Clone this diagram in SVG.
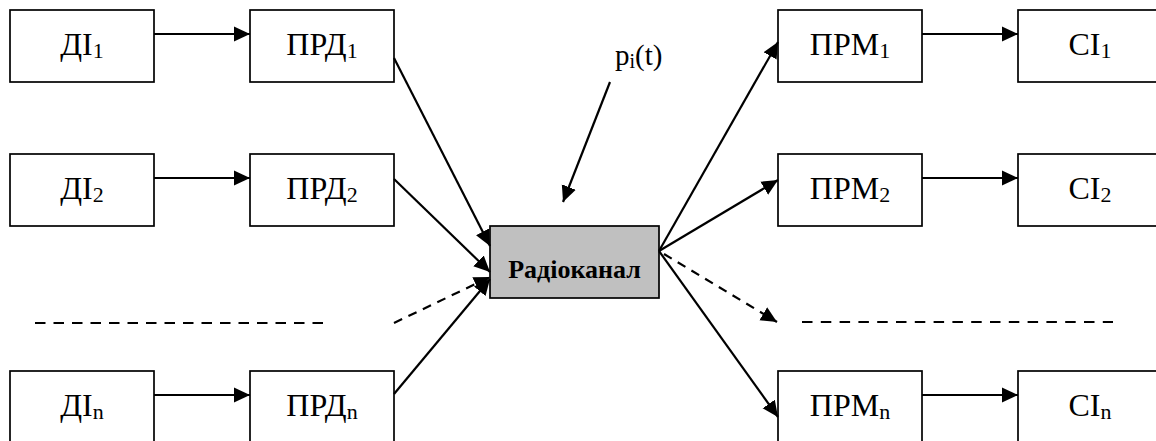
<svg xmlns="http://www.w3.org/2000/svg" width="1156" height="441" viewBox="0 0 1156 441">
  <style>
    .box { fill: #ffffff; stroke: #000000; stroke-width: 1.7; }
    .hub { fill: #c0c0c0; stroke: #000000; stroke-width: 1.7; }
    .lbl { font-family: "Liberation Serif", "Times New Roman", serif; font-size: 32px; fill: #000000; text-anchor: middle; }
    .sub { font-size: 22px; }
    .hubl { font-family: "Liberation Serif", "Times New Roman", serif; font-size: 26px; font-weight: bold; fill: #000000; text-anchor: middle; }
    .ln { stroke: #000000; stroke-width: 2.2; fill: none; }
    .arr { marker-end: url(#ah); }
    .dashL { stroke-dasharray: 10.5 8; }
    .dashR { stroke-dasharray: 10.5 8.3; }
    .dash2 { stroke-dasharray: 9 7; }
  </style>
  <defs>
    <marker id="ah" viewBox="0 0 16 16" refX="16" refY="8" markerWidth="16" markerHeight="16" markerUnits="userSpaceOnUse" orient="auto">
      <path d="M0,0.5 L16,8 L0,15.5 z" fill="#000000"/>
    </marker>
  </defs>

  <!-- sources -->
  <g id="di1"><rect class="box" x="10" y="10" width="144" height="72"/><text class="lbl" x="82" y="55">ДІ<tspan class="sub" dy="3">1</tspan></text></g>
  <g id="di2"><rect class="box" x="10" y="154" width="144" height="72"/><text class="lbl" x="82" y="199">ДІ<tspan class="sub" dy="3">2</tspan></text></g>
  <g id="din"><rect class="box" x="10" y="371" width="144" height="72"/><text class="lbl" x="82" y="416">ДІ<tspan class="sub" dy="3">n</tspan></text></g>

  <!-- transmitters -->
  <g id="prd1"><rect class="box" x="250" y="10" width="144" height="72"/><text class="lbl" x="322" y="55">ПРД<tspan class="sub" dy="3">1</tspan></text></g>
  <g id="prd2"><rect class="box" x="250" y="154" width="144" height="72"/><text class="lbl" x="322" y="199">ПРД<tspan class="sub" dy="3">2</tspan></text></g>
  <g id="prdn"><rect class="box" x="250" y="371" width="144" height="72"/><text class="lbl" x="322" y="416">ПРД<tspan class="sub" dy="3">n</tspan></text></g>

  <!-- channel -->
  <g id="radiokanal"><rect class="hub" x="490" y="226" width="169" height="72"/><text class="hubl" x="574.5" y="278">Радіоканал</text></g>

  <!-- receivers -->
  <g id="prm1"><rect class="box" x="778" y="10" width="144" height="72"/><text class="lbl" x="850" y="55">ПРМ<tspan class="sub" dy="3">1</tspan></text></g>
  <g id="prm2"><rect class="box" x="778" y="154" width="144" height="72"/><text class="lbl" x="850" y="199">ПРМ<tspan class="sub" dy="3">2</tspan></text></g>
  <g id="prmn"><rect class="box" x="778" y="371" width="144" height="72"/><text class="lbl" x="850" y="416">ПРМ<tspan class="sub" dy="3">n</tspan></text></g>

  <!-- sinks -->
  <g id="ci1"><rect class="box" x="1018" y="10" width="144" height="72"/><text class="lbl" x="1090" y="55">СІ<tspan class="sub" dy="3">1</tspan></text></g>
  <g id="ci2"><rect class="box" x="1018" y="154" width="144" height="72"/><text class="lbl" x="1090" y="199">СІ<tspan class="sub" dy="3">2</tspan></text></g>
  <g id="cin"><rect class="box" x="1018" y="371" width="144" height="72"/><text class="lbl" x="1090" y="416">СІ<tspan class="sub" dy="3">n</tspan></text></g>

  <!-- interference label -->
  <g id="noise"><text class="lbl" x="615" y="65" style="text-anchor:start;font-size:29px">p<tspan class="sub" dy="3" style="font-size:20px">i</tspan><tspan dy="-3">(t)</tspan></text></g>

  <g id="connectors">
    <line class="ln arr" x1="154" y1="34" x2="250" y2="34"/>
    <line class="ln arr" x1="154" y1="178" x2="250" y2="178"/>
    <line class="ln arr" x1="154" y1="395" x2="250" y2="395"/>
    <line class="ln arr" x1="922" y1="34" x2="1018" y2="34"/>
    <line class="ln arr" x1="922" y1="178" x2="1018" y2="178"/>
    <line class="ln arr" x1="922" y1="395" x2="1018" y2="395"/>

    <line class="ln arr" x1="394" y1="58" x2="490" y2="246"/>
    <line class="ln arr" x1="394" y1="179" x2="490" y2="272"/>
    <line class="ln arr dash2" x1="394" y1="323" x2="490" y2="277"/>
    <line class="ln arr" x1="394" y1="394" x2="490" y2="279"/>

    <line class="ln arr" x1="659" y1="251" x2="778" y2="42"/>
    <line class="ln arr" x1="659" y1="251" x2="778" y2="180"/>
    <line class="ln arr dash2" x1="664" y1="254" x2="777" y2="322"/>
    <line class="ln arr" x1="659" y1="251" x2="778" y2="417"/>

    <line class="ln arr" x1="610" y1="82" x2="563" y2="202"/>

    <line class="ln dashL" x1="35" y1="323" x2="323" y2="323"/>
    <line class="ln dashR" x1="802" y1="322" x2="1113" y2="322"/>
  </g>
</svg>
